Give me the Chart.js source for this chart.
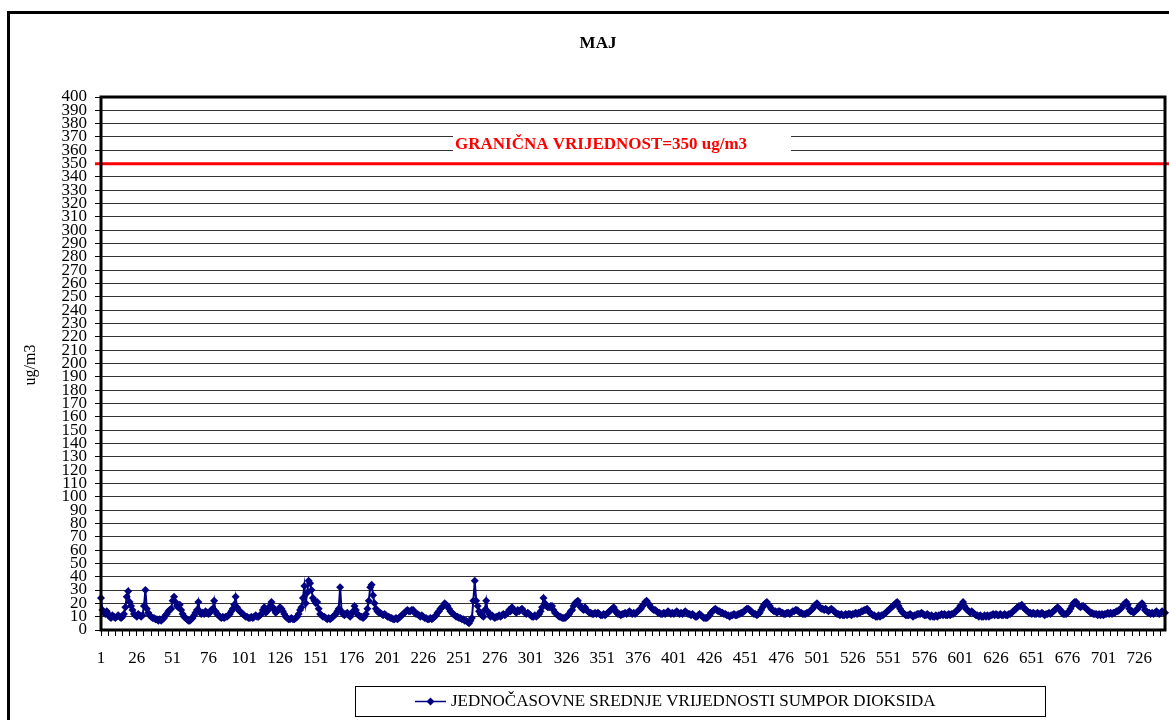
<!DOCTYPE html>
<html>
<head>
<meta charset="utf-8">
<script src="https://cdn.jsdelivr.net/npm/chart.js@4.4.0/dist/chart.umd.min.js"></script>
<style>
  html, body { margin: 0; padding: 0; background: #fff; }
  #wrap { position: relative; width: 1169px; height: 720px; }
</style>
</head>
<body>
<div id="wrap"><canvas id="myChart" width="1169" height="720"></canvas></div>
<script>
// Hourly SO2 values for May (31 days x 24 h), one row per day
const so2 = [
  24,15,13,12,14,12,10,9,11,10,9,10,11,10,9,10,12,17,25,29,21,18,15,12,
  11,10,12,11,10,11,18,30,16,13,11,10,9,9,8,8,7,8,7,8,9,11,12,14,
  15,16,22,25,21,18,17,19,15,12,10,9,8,7,7,8,9,11,13,15,21,14,12,13,
  12,14,13,12,13,15,16,22,14,12,11,10,9,10,9,10,10,11,12,14,16,19,25,17,
  15,14,13,12,11,10,10,9,9,10,9,10,11,10,10,11,12,15,17,13,14,16,18,21,
  17,15,13,14,15,17,16,14,12,10,9,8,8,9,8,8,9,10,12,15,17,24,33,20,
  28,37,35,30,24,22,20,21,16,12,11,10,10,9,8,9,8,9,10,11,12,14,16,32,
  14,12,11,12,13,11,10,12,14,18,15,12,11,10,10,9,10,12,16,22,32,34,26,20,
  16,14,13,13,12,11,12,11,10,10,9,9,8,8,9,8,9,10,11,12,13,14,15,14,
  14,15,15,13,12,12,11,10,11,10,9,9,8,8,9,8,9,10,11,13,14,16,17,18,
  20,19,18,16,14,13,12,11,10,10,9,9,8,8,7,7,6,5,7,9,22,37,22,18,
  14,12,11,10,15,22,14,12,10,11,10,9,10,10,11,10,11,12,11,12,13,15,14,17,
  15,14,13,15,14,15,16,14,13,12,13,12,11,10,10,11,10,11,12,14,17,24,20,18,
  17,17,18,18,15,13,12,11,10,10,9,9,9,10,11,12,14,15,18,20,21,22,19,17,
  16,15,17,15,14,13,13,12,12,13,12,13,12,11,11,12,11,12,13,14,15,16,17,15,
  13,12,12,11,12,12,13,12,13,14,13,12,13,12,13,14,15,16,18,19,21,22,20,19,
  17,16,15,15,14,13,13,12,12,13,12,13,14,13,12,13,12,13,14,13,12,13,12,13,
  14,13,12,12,11,12,11,10,10,11,12,11,10,9,9,9,10,11,13,14,15,16,15,14,
  14,13,13,12,12,11,11,10,11,11,12,11,11,12,12,13,13,14,15,16,16,15,14,13,
  12,12,11,12,13,15,17,19,20,21,19,18,16,15,14,14,13,14,14,13,13,12,12,13,
  13,12,13,14,14,15,15,14,13,13,12,12,12,13,13,14,15,16,18,19,20,18,17,16,
  16,15,16,15,14,15,16,15,14,13,12,12,11,12,11,11,12,11,12,12,11,12,12,13,
  12,13,13,14,14,15,15,16,14,13,12,11,11,10,10,11,10,11,11,12,13,14,15,16,
  17,18,19,20,21,18,16,14,13,12,11,11,11,12,11,10,11,11,12,12,12,13,12,11,
  11,12,11,10,11,10,10,11,10,11,11,12,11,12,11,11,12,11,12,12,13,14,15,16,
  18,19,21,18,16,15,14,13,14,13,12,11,11,10,11,10,10,11,10,11,10,11,11,12,
  11,12,11,11,12,11,11,12,11,11,12,12,13,14,15,16,17,18,18,19,17,16,15,14,
  13,13,12,13,12,12,13,12,12,13,12,11,12,12,13,12,13,14,15,16,17,16,15,13,
  12,12,12,13,14,16,18,20,21,21,19,18,17,18,18,17,16,15,14,13,13,12,12,12,
  11,12,11,12,11,12,12,13,12,13,12,13,13,14,14,15,16,17,19,20,21,19,16,14,
  14,13,14,15,16,18,19,20,18,15,14,13,13,12,13,12,13,14,13,12,13,14,13,13
];

// hour numbers used as categories
const hours = so2.map((v, i) => String(i + 1));
const labelStep = 25;
const tickStep = 5;

const yMin = 0;
const yMax = 400;
const yStep = 10;

const limitValue = 350;
const limitLabel = 'GRANIČNA VRIJEDNOST=350 ug/m3';
const chartTitle = 'MAJ';
const yTitle = 'ug/m3';
const seriesName = 'JEDNOČASOVNE SREDNJE VRIJEDNOSTI SUMPOR DIOKSIDA';

const navy = '#000080';
const serif = '"Liberation Serif", "Times New Roman", serif';

const extras = {
    id: 'extras',
    beforeDraw(chart) {
        const c = chart.ctx;
        c.save();
        c.fillStyle = '#fff';
        c.fillRect(0, 0, chart.width, chart.height);
        // outer frame
        c.strokeStyle = '#000';
        c.lineWidth = 3;
        c.strokeRect(8.5, 12.5, 1200, 800);
        c.restore();
    },
    beforeDatasetsDraw(chart) {
        const c = chart.ctx;
        const y = chart.scales.y;
        const area = chart.chartArea;
        const yl = y.getPixelForValue(limitValue);
        c.save();
        // white box behind the limit label
        c.fillStyle = '#fff';
        c.fillRect(453, y.getPixelForValue(372), 338, y.getPixelForValue(358) - y.getPixelForValue(372));
        c.fillStyle = '#ff0000';
        c.font = 'bold 17px ' + serif;
        c.textBaseline = 'middle';
        c.textAlign = 'left';
        c.fillText(limitLabel, 455, y.getPixelForValue(364.5));
        // limit line
        c.strokeStyle = '#ff0000';
        c.lineWidth = 3;
        c.beginPath();
        c.moveTo(area.left - 6, yl);
        c.lineTo(chart.width, yl);
        c.stroke();
        c.restore();
    },
    afterDatasetsDraw(chart) {
        const c = chart.ctx;
        const a = chart.chartArea;
        c.save();
        c.strokeStyle = '#000';
        c.lineWidth = 3;
        c.strokeRect(a.left, a.top, a.right - a.left, a.bottom - a.top);
        c.restore();
    },
    afterDraw(chart) {
        const c = chart.ctx;
        c.save();
        c.fillStyle = '#000';
        // title
        c.font = 'bold 17px ' + serif;
        c.textAlign = 'center';
        c.textBaseline = 'middle';
        c.fillText(chartTitle, 598, 44);
        // y axis title
        c.font = '16px ' + serif;
        c.translate(31, 365);
        c.rotate(-Math.PI / 2);
        c.fillText(yTitle, 0, 0);
        c.restore();

        // legend box
        c.save();
        c.strokeStyle = '#000';
        c.lineWidth = 1;
        c.strokeRect(355.5, 686.5, 690, 30);
        c.strokeStyle = navy;
        c.lineWidth = 1.5;
        c.beginPath();
        c.moveTo(415, 701.5);
        c.lineTo(446, 701.5);
        c.stroke();
        c.fillStyle = navy;
        c.beginPath();
        c.moveTo(430.5, 697.5);
        c.lineTo(434.5, 701.5);
        c.lineTo(430.5, 705.5);
        c.lineTo(426.5, 701.5);
        c.closePath();
        c.fill();
        c.fillStyle = '#000';
        c.font = '17px ' + serif;
        c.textAlign = 'left';
        c.textBaseline = 'middle';
        c.fillText(seriesName, 451, 702);
        c.restore();
    }
};

const ctx = document.getElementById('myChart').getContext('2d');
const myChart = new Chart(ctx, {
    type: 'line',
    data: {
        labels: hours,
        datasets: [{
            label: seriesName,
            data: so2,
            borderColor: navy,
            backgroundColor: navy,
            borderWidth: 2,
            pointStyle: 'rectRot',
            pointRadius: 4,
            pointBorderWidth: 0,
            tension: 0
        }]
    },
    options: {
        responsive: false,
        animation: false,
        layout: { padding: { left: 0, top: 97, right: 4, bottom: 0 } },
        plugins: {
            legend: { display: false },
            title: { display: false },
            tooltip: { enabled: false }
        },
        scales: {
            x: {
                type: 'category',
                offset: false,
                afterFit: (s) => { s.height = 90; s.paddingLeft = 0; s.paddingRight = 0; },
                border: { display: false },
                grid: {
                    drawOnChartArea: false,
                    drawTicks: true,
                    tickLength: 6,
                    tickColor: (c) => (c.index % tickStep === 0 ? '#000' : 'rgba(0,0,0,0)'),
                    lineWidth: 1
                },
                ticks: {
                    autoSkip: false,
                    maxRotation: 0,
                    minRotation: 0,
                    padding: 12,
                    color: '#000',
                    font: { family: serif, size: 17 },
                    callback: (v, i) => (i % labelStep === 0 ? hours[i] : '')
                }
            },
            y: {
                min: yMin,
                max: yMax,
                afterFit: (s) => { s.width = 101; },
                border: { display: false },
                grid: {
                    color: '#333',
                    lineWidth: 1,
                    tickLength: 6,
                    tickColor: '#000'
                },
                ticks: {
                    stepSize: yStep,
                    autoSkip: false,
                    padding: 8,
                    color: '#000',
                    font: { family: serif, size: 17 }
                }
            }
        }
    },
    plugins: [extras]
});
</script>
</body>
</html>
